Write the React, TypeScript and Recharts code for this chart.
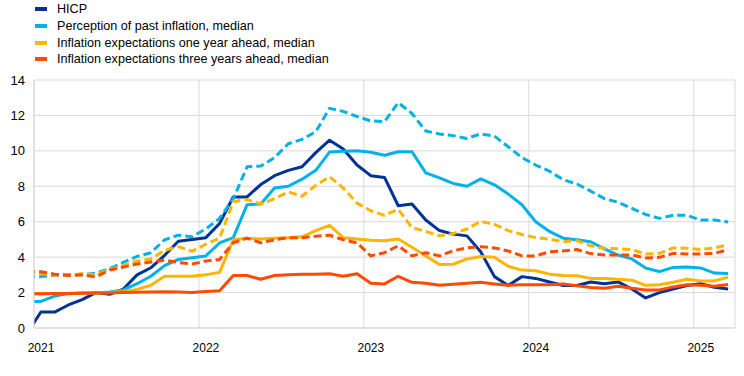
import { LineChart, Line, XAxis, YAxis, CartesianGrid } from 'recharts';

// Monthly observations, Dec 2020 to Mar 2025 (Dec 2020 sits left of the axis and is clipped)
const months = [
  '2020-12',
  '2021-01', '2021-02', '2021-03', '2021-04', '2021-05', '2021-06', '2021-07', '2021-08', '2021-09', '2021-10', '2021-11', '2021-12',
  '2022-01', '2022-02', '2022-03', '2022-04', '2022-05', '2022-06', '2022-07', '2022-08', '2022-09', '2022-10', '2022-11', '2022-12',
  '2023-01', '2023-02', '2023-03', '2023-04', '2023-05', '2023-06', '2023-07', '2023-08', '2023-09', '2023-10', '2023-11', '2023-12',
  '2024-01', '2024-02', '2024-03', '2024-04', '2024-05', '2024-06', '2024-07', '2024-08', '2024-09', '2024-10', '2024-11', '2024-12',
  '2025-01', '2025-02', '2025-03',
];

const hicp = [
  -0.3,
  0.9, 0.9, 1.3, 1.6, 2.0, 1.9, 2.2, 3.0, 3.4, 4.1, 4.9, 5.0,
  5.1, 5.9, 7.4, 7.4, 8.1, 8.6, 8.9, 9.1, 9.9, 10.6, 10.1, 9.2,
  8.6, 8.5, 6.9, 7.0, 6.1, 5.5, 5.3, 5.2, 4.3, 2.9, 2.4, 2.9,
  2.8, 2.6, 2.4, 2.4, 2.6, 2.5, 2.6, 2.2, 1.7, 2.0, 2.2, 2.4,
  2.5, 2.3, 2.2,
];

const perceptionMedian = [
  1.5,
  1.5, 1.8, 1.94, 1.98, 1.98, 2.03, 2.15, 2.5, 2.92, 3.52, 3.87, 3.97,
  4.07, 4.8, 5.1, 6.96, 7.0, 7.9, 8.0, 8.4, 8.9, 9.93, 9.98, 10.0,
  9.92, 9.75, 9.95, 9.95, 8.76, 8.47, 8.16, 8.0, 8.42, 8.08, 7.56, 6.96,
  6.0, 5.45, 5.07, 4.98, 4.87, 4.47, 4.12, 3.9, 3.39, 3.18, 3.42, 3.45,
  3.39, 3.1, 3.08,
];

const perceptionMean = [
  2.9,
  2.9, 2.97, 3.0, 3.0, 3.1, 3.35, 3.7, 4.04, 4.25, 4.98, 5.24, 5.15,
  5.59, 6.19, 7.3, 9.1, 9.14, 9.62, 10.4, 10.65, 11.08, 12.4, 12.23, 11.94,
  11.69, 11.65, 12.72, 12.11, 11.12, 10.95, 10.86, 10.7, 10.96, 10.83, 10.23, 9.62,
  9.2, 8.85, 8.37, 8.13, 7.73, 7.3, 7.1, 6.75, 6.41, 6.19, 6.36, 6.36,
  6.1, 6.1, 5.98,
];

const oneYearMedian = [
  1.93,
  1.93, 1.95, 1.95, 1.98, 1.98, 2.0, 2.06, 2.18, 2.41, 2.92, 2.92, 2.92,
  3.01, 3.14, 4.98, 5.07, 5.02, 5.07, 5.1, 5.15, 5.5, 5.79, 5.1, 5.02,
  4.95, 4.93, 5.02, 4.56, 4.07, 3.58, 3.6, 3.9, 4.04, 4.0, 3.49, 3.27,
  3.23, 3.04, 2.97, 2.95, 2.8, 2.8, 2.75, 2.7, 2.41, 2.44, 2.58, 2.75,
  2.66, 2.66, 2.87,
];

const oneYearMean = [
  3.1,
  3.08, 2.97, 2.98, 3.07, 3.0, 3.32, 3.52, 3.78, 3.9, 4.38, 4.59, 4.33,
  4.73, 5.07, 7.13, 7.25, 7.0, 7.3, 7.68, 7.44, 8.05, 8.54, 7.9, 7.05,
  6.62, 6.36, 6.7, 5.67, 5.45, 5.21, 5.33, 5.59, 6.02, 5.85, 5.5, 5.28,
  5.1, 5.02, 4.87, 4.93, 4.64, 4.5, 4.47, 4.42, 4.18, 4.21, 4.52, 4.5,
  4.43, 4.52, 4.69,
];

const threeYearMedian = [
  1.94,
  1.94, 1.95, 1.95, 1.96, 1.97, 1.98, 2.0, 2.02, 2.03, 2.05, 2.03, 2.0,
  2.06, 2.1, 2.97, 2.96, 2.75, 2.96, 3.01, 3.04, 3.04, 3.06, 2.92, 3.06,
  2.53, 2.49, 2.92, 2.58, 2.53, 2.41, 2.47, 2.53, 2.58, 2.49, 2.41, 2.44,
  2.44, 2.44, 2.49, 2.39, 2.29, 2.24, 2.36, 2.24, 2.15, 2.15, 2.32, 2.44,
  2.41, 2.36, 2.46,
];

const threeYearMean = [
  3.2,
  3.18, 3.04, 2.97, 3.0, 2.89, 3.27, 3.44, 3.61, 3.73, 3.83, 3.7, 3.61,
  3.78, 3.87, 4.81, 5.07, 4.81, 4.98, 5.1, 5.1, 5.18, 5.24, 4.98, 4.81,
  4.07, 4.25, 4.64, 4.07, 4.25, 4.07, 4.36, 4.52, 4.59, 4.52, 4.35, 4.07,
  4.07, 4.3, 4.35, 4.43, 4.2, 4.12, 4.12, 4.12, 3.95, 3.99, 4.21, 4.18,
  4.18, 4.21, 4.42,
];

const yearTicks = [0, 12, 24, 36, 48];
const yearLabels = ['2021', '2022', '2023', '2024', '2025'];
const yTicks = [0, 2, 4, 6, 8, 10, 12, 14];

const legendItems = [
  { label: 'HICP', color: '#003299' },
  { label: 'Perception of past inflation, median', color: '#00b1ea' },
  { label: 'Inflation expectations one year ahead, median', color: '#ffb400' },
  { label: 'Inflation expectations three years ahead, median', color: '#ff4b00' },
];

const FONT = '"Liberation Sans", Arial, sans-serif';

// x is months since Jan 2021, each observation plotted mid-month
const data = months.map((m, i) => ({
  month: m,
  x: i - 0.5,
  hicp: hicp[i],
  perceptionMedian: perceptionMedian[i],
  perceptionMean: perceptionMean[i],
  oneYearMedian: oneYearMedian[i],
  oneYearMean: oneYearMean[i],
  threeYearMedian: threeYearMedian[i],
  threeYearMean: threeYearMean[i],
}));

const YearTick = ({ x, y, payload }: any) => {
  const idx = yearTicks.indexOf(payload.value);
  return (
    <text x={x + 7} y={y + 16} textAnchor="middle" fontSize={12} fontFamily={FONT} fill="#000">
      {yearLabels[idx]}
    </text>
  );
};

export default function App() {
  return (
    <div style={{ position: 'absolute', left: 0, top: 0, width: 744, height: 376, background: '#fff' }}>
      <div style={{ position: 'absolute', left: 35, top: 1, fontFamily: FONT, fontSize: 12.6, color: '#000', zIndex: 2 }}>
        {legendItems.map((item) => (
          <div key={item.label} style={{ display: 'flex', alignItems: 'center', height: 16.7 }}>
            <span style={{ display: 'inline-block', width: 12, height: 4, background: item.color, marginRight: 10 }} />
            <span>{item.label}</span>
          </div>
        ))}
      </div>
      <LineChart width={744} height={376} data={data} margin={{ top: 80, right: 9, bottom: 24, left: 0 }}>
        <CartesianGrid stroke="#d9d9d9" strokeWidth={1} />
        <XAxis
          dataKey="x"
          type="number"
          domain={[0, 51]}
          allowDataOverflow
          ticks={yearTicks}
          tick={<YearTick />}
          tickLine={false}
          axisLine={{ stroke: '#d9d9d9' }}
          height={24}
        />
        <YAxis
          type="number"
          domain={[0, 14]}
          allowDataOverflow
          ticks={yTicks}
          width={34}
          tickSize={0}
          tickMargin={9}
          tickLine={false}
          axisLine={{ stroke: '#d9d9d9' }}
          tick={{ fontSize: 13, fontFamily: FONT, fill: '#000' }}
        />
        <Line dataKey="hicp" stroke="#003299" strokeWidth={3} dot={false} isAnimationActive={false} strokeLinejoin="round" />
        <Line dataKey="perceptionMedian" stroke="#00b1ea" strokeWidth={3} dot={false} isAnimationActive={false} strokeLinejoin="round" />
        <Line dataKey="oneYearMedian" stroke="#ffb400" strokeWidth={3} dot={false} isAnimationActive={false} strokeLinejoin="round" />
        <Line dataKey="threeYearMedian" stroke="#ff4b00" strokeWidth={3} dot={false} isAnimationActive={false} strokeLinejoin="round" />
        <Line dataKey="perceptionMean" stroke="#00b1ea" strokeWidth={3} strokeDasharray="8 4" dot={false} isAnimationActive={false} strokeLinejoin="round" />
        <Line dataKey="oneYearMean" stroke="#ffb400" strokeWidth={3} strokeDasharray="8 4" dot={false} isAnimationActive={false} strokeLinejoin="round" />
        <Line dataKey="threeYearMean" stroke="#ff4b00" strokeWidth={3} strokeDasharray="8 4" dot={false} isAnimationActive={false} strokeLinejoin="round" />
      </LineChart>
    </div>
  );
}
